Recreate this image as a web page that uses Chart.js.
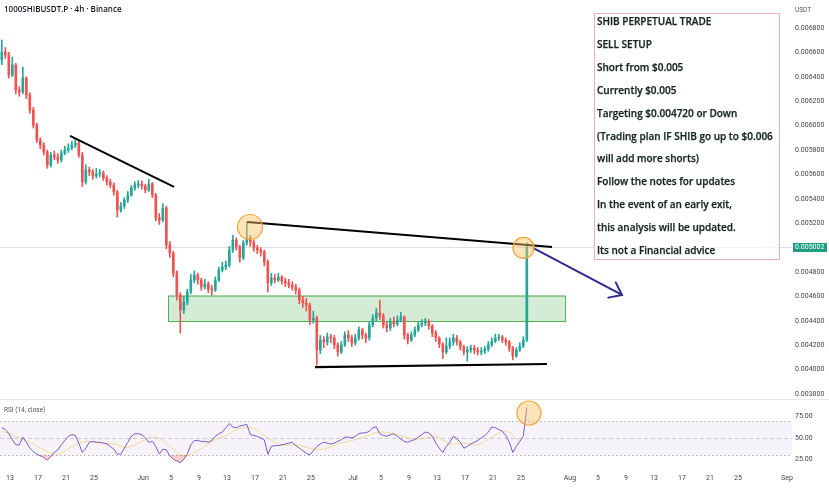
<!DOCTYPE html>
<html>
<head>
<meta charset="utf-8">
<title>1000SHIBUSDT.P 4h</title>
<script src="https://cdn.jsdelivr.net/npm/chart.js@4.4.1/dist/chart.umd.min.js"></script>
<style>
    html, body { margin: 0; padding: 0; background: #fff; }
    #wrap { position: relative; width: 829px; height: 489px; overflow: hidden; font-family: "Open Sans", sans-serif; }
    #price-chart { position: absolute; left: 0; top: 0; }
    #rsi-chart { position: absolute; left: 0; top: 399px; }
    .title { position: absolute; left: 4px; top: 4px; font-size: 8px; font-weight: 600; line-height: 10px; color: #131722; white-space: nowrap; }
    .unit { position: absolute; left: 795px; top: 5px; font-family: Roboto, sans-serif; font-size: 6.5px; line-height: 10px; color: #50535e; }
    .rsi-title { position: absolute; left: 4px; top: 405px; font-family: Roboto, sans-serif; font-size: 6.5px; line-height: 10px; color: #50535e; }
    .note { position: absolute; left: 594px; top: 13px; width: 186px; height: 247px; box-sizing: border-box; border: 1px solid #e3b4b9; background: rgba(255,255,255,0.6); }
    .note .lines { position: absolute; left: 2px; top: -3.6px; font-size: 10px; font-weight: 600; line-height: 22.83px; color: #16241e; white-space: nowrap; -webkit-text-stroke: 0.25px #16241e; }
</style>
</head>
<body>
<div id="wrap">
    <canvas id="price-chart" width="829" height="399"></canvas>
    <canvas id="rsi-chart" width="829" height="90"></canvas>
    <div class="title">1000SHIBUSDT.P · 4h · Binance</div>
    <div class="unit">USDT</div>
    <div class="rsi-title">RSI (14, close)</div>
    <div class="note"><div class="lines">
        <div>SHIB PERPETUAL TRADE</div>
        <div>SELL SETUP</div>
        <div>Short from $0.005</div>
        <div>Currently $0.005</div>
        <div>Targeting $0.004720 or Down</div>
        <div>(Trading plan IF SHIB go up to $0.006</div>
        <div>will add more shorts)</div>
        <div>Follow the notes for updates</div>
        <div>In the event of an early exit,</div>
        <div>this analysis will be updated.</div>
        <div>Its not a Financial advice</div>
    </div></div>
</div>
<script>

var firstCandleDay = 10.83;
var candleStep = 0.5;
var firstOpen = 0.006538;

var closes = [0.006603, 0.006579, 0.006415, 0.006497, 0.006292, 0.006275, 0.006390, 0.006251, 0.006128, 0.006005,
    0.005882, 0.005841, 0.005784, 0.005677, 0.005759, 0.005743, 0.005718, 0.005775, 0.005800, 0.005816,
    0.005841, 0.005857, 0.005759, 0.005538, 0.005636, 0.005620, 0.005587, 0.005603, 0.005611, 0.005570,
    0.005538, 0.005513, 0.005456, 0.005308, 0.005341, 0.005390, 0.005431, 0.005488, 0.005513, 0.005521,
    0.005505, 0.005472, 0.005521, 0.005431, 0.005243, 0.005226, 0.005325, 0.005021, 0.004956, 0.004792,
    0.004611, 0.004488, 0.004554, 0.004636, 0.004734, 0.004775, 0.004734, 0.004677, 0.004702, 0.004661,
    0.004652, 0.004734, 0.004816, 0.004841, 0.004857, 0.004980, 0.005062, 0.005005, 0.004915, 0.005038,
    0.005079, 0.005046, 0.004997, 0.004980, 0.004964, 0.004882, 0.004710, 0.004751, 0.004734, 0.004759,
    0.004726, 0.004710, 0.004693, 0.004677, 0.004652, 0.004570, 0.004546, 0.004529, 0.004406, 0.004423,
    0.004161, 0.004243, 0.004226, 0.004267, 0.004259, 0.004202, 0.004144, 0.004202, 0.004284, 0.004259,
    0.004218, 0.004259, 0.004325, 0.004284, 0.004259, 0.004366, 0.004423, 0.004464, 0.004439, 0.004366,
    0.004341, 0.004390, 0.004374, 0.004406, 0.004431, 0.004284, 0.004243, 0.004284, 0.004325, 0.004366,
    0.004382, 0.004390, 0.004357, 0.004300, 0.004259, 0.004210, 0.004144, 0.004193, 0.004226, 0.004259,
    0.004226, 0.004185, 0.004144, 0.004161, 0.004177, 0.004161, 0.004144, 0.004152, 0.004169, 0.004202,
    0.004234, 0.004259, 0.004267, 0.004243, 0.004226, 0.004177, 0.004111, 0.004161, 0.004193, 0.004243,
    0.005002];

var highs = [0.006702, 0.006640, 0.006600, 0.006562, 0.006510, 0.006320, 0.006480, 0.006400, 0.006270, 0.006150,
    0.006020, 0.005900, 0.005860, 0.005800, 0.005780, 0.005790, 0.005770, 0.005800, 0.005830, 0.005850,
    0.005870, 0.005895, 0.005880, 0.005780, 0.005680, 0.005660, 0.005640, 0.005650, 0.005640, 0.005630,
    0.005590, 0.005560, 0.005530, 0.005470, 0.005370, 0.005410, 0.005460, 0.005510, 0.005540, 0.005550,
    0.005545, 0.005520, 0.005560, 0.005535, 0.005445, 0.005280, 0.005360, 0.005340, 0.005050, 0.004970,
    0.004810, 0.004630, 0.004600, 0.004660, 0.004780, 0.004810, 0.004790, 0.004750, 0.004740, 0.004720,
    0.004690, 0.004760, 0.004840, 0.004880, 0.004890, 0.005010, 0.005100, 0.005080, 0.005020, 0.005060,
    0.005210, 0.005100, 0.005060, 0.005020, 0.005000, 0.004980, 0.004900, 0.004790, 0.004780, 0.004790,
    0.004770, 0.004750, 0.004740, 0.004720, 0.004700, 0.004670, 0.004600, 0.004580, 0.004545, 0.004480,
    0.004440, 0.004280, 0.004270, 0.004300, 0.004290, 0.004280, 0.004220, 0.004230, 0.004310, 0.004320,
    0.004280, 0.004290, 0.004350, 0.004340, 0.004300, 0.004390, 0.004450, 0.004500, 0.004570, 0.004460,
    0.004390, 0.004420, 0.004430, 0.004440, 0.004470, 0.004440, 0.004300, 0.004310, 0.004350, 0.004390,
    0.004410, 0.004420, 0.004410, 0.004370, 0.004320, 0.004270, 0.004220, 0.004260, 0.004260, 0.004290,
    0.004280, 0.004240, 0.004200, 0.004190, 0.004200, 0.004200, 0.004180, 0.004180, 0.004190, 0.004230,
    0.004260, 0.004290, 0.004290, 0.004280, 0.004260, 0.004240, 0.004190, 0.004180, 0.004220, 0.004270,
    0.005040];

var lows = [0.006500, 0.006550, 0.006390, 0.006400, 0.006260, 0.006240, 0.006260, 0.006220, 0.006100, 0.005980,
    0.005860, 0.005810, 0.005760, 0.005650, 0.005660, 0.005720, 0.005690, 0.005700, 0.005760, 0.005780,
    0.005800, 0.005820, 0.005740, 0.005500, 0.005520, 0.005590, 0.005560, 0.005570, 0.005580, 0.005550,
    0.005510, 0.005490, 0.005430, 0.005250, 0.005290, 0.005320, 0.005370, 0.005420, 0.005470, 0.005490,
    0.005480, 0.005450, 0.005460, 0.005410, 0.005220, 0.005190, 0.005210, 0.004990, 0.004920, 0.004760,
    0.004570, 0.004300, 0.004460, 0.004530, 0.004620, 0.004710, 0.004700, 0.004650, 0.004660, 0.004630,
    0.004610, 0.004640, 0.004720, 0.004800, 0.004820, 0.004840, 0.004960, 0.004980, 0.004880, 0.004900,
    0.005020, 0.005010, 0.004970, 0.004950, 0.004930, 0.004850, 0.004636, 0.004690, 0.004710, 0.004720,
    0.004700, 0.004680, 0.004670, 0.004650, 0.004620, 0.004540, 0.004510, 0.004480, 0.004370, 0.004380,
    0.004038, 0.004130, 0.004180, 0.004200, 0.004220, 0.004170, 0.004110, 0.004130, 0.004190, 0.004230,
    0.004190, 0.004200, 0.004240, 0.004250, 0.004220, 0.004240, 0.004350, 0.004400, 0.004410, 0.004340,
    0.004310, 0.004320, 0.004350, 0.004360, 0.004390, 0.004250, 0.004210, 0.004230, 0.004270, 0.004310,
    0.004350, 0.004360, 0.004330, 0.004270, 0.004230, 0.004180, 0.004090, 0.004130, 0.004170, 0.004200,
    0.004200, 0.004160, 0.004120, 0.004070, 0.004140, 0.004130, 0.004120, 0.004120, 0.004130, 0.004150,
    0.004190, 0.004220, 0.004240, 0.004220, 0.004200, 0.004150, 0.004080, 0.004100, 0.004150, 0.004180,
    0.004230];

// RSI (14, close), one reading per candle
var rsiValues = [62, 60, 55, 48, 42, 42, 51, 45, 38, 34,
    31, 29, 27, 24, 28, 33, 36, 42, 47, 52,
    54, 53, 44, 33, 38, 45, 46, 45, 45, 44,
    43, 40, 37, 31, 31, 38, 45, 52, 55, 55,
    54, 50, 45, 46, 40, 31, 37, 36, 29, 25,
    23, 21, 25, 31, 42, 47, 47, 46, 46, 45,
    47, 52, 55, 57, 62, 67, 63, 62, 64, 65,
    66, 54, 53, 52, 50, 48, 31, 40, 41, 41,
    42, 43, 44, 45, 41, 38, 35, 32, 30, 35,
    40, 43, 45, 44, 43, 44, 46, 48, 51, 51,
    50, 52, 55, 56, 56, 58, 62, 63, 55, 53,
    52, 54, 55, 52, 49, 46, 45, 47, 48, 51,
    54, 57, 56, 52, 44, 38, 33, 40, 45, 52,
    49, 45, 38, 40, 43, 45, 47, 50, 53, 57,
    63, 62, 60, 58, 53, 45, 33, 40, 46, 52,
    86];

// RSI moving average, one reading every 4th candle
var rsiMaStep = 4;
var rsiMaValues = [58, 52, 45, 36, 31, 40, 46, 44, 43, 39,
    46, 51, 40, 29, 35, 46, 53, 61, 61, 50,
    42, 42, 38, 37, 43, 47, 52, 57, 55, 50,
    49, 52, 43, 44, 42, 51, 58, 46];

var lastPrice = 0.005002;
var priceTicks = [0.0068, 0.0066, 0.0064, 0.0062, 0.0060, 0.0058, 0.0056, 0.0054, 0.0052,
    0.0048, 0.0046, 0.0044, 0.0042, 0.0040, 0.0038];
var rsiTicks = [75, 50, 25];
var dateTickDays = [12, 16, 20, 24, 31, 35, 39, 43, 47, 51, 55, 61, 65, 69, 73, 77, 81, 85,
    92, 96, 100, 104, 108, 112, 116, 123];
var dateTickLabels = ['13', '17', '21', '25', 'Jun', '5', '9', '13', '17', '21', '25', 'Jul', '5', '9', '13', '17', '21', '25',
    'Aug', '5', '9', '13', '17', '21', '25', 'Sep'];

// drawings on the chart (day, price)
var trendLines = [
    [{x: 20.57, y: 0.005915}, {x: 35.43, y: 0.005497}],
    [{x: 45.86, y: 0.005210}, {x: 89.43, y: 0.005005}],
    [{x: 55.57, y: 0.004021}, {x: 88.71, y: 0.004046}]
];
var arrowLine = [{x: 86.71, y: 0.004997}, {x: 99.43, y: 0.004612}];
var zone = {x0: 34.57, x1: 91.29, top: 0.004607, bottom: 0.004398};
var priceCircles = [{x: 46.29, y: 0.005169}, {x: 85.36, y: 0.004997}];
var rsiCircles = [{x: 86.14, y: 79.4}];

// visible window
var viewMinDay = 10.571;
var viewMaxDay = 123.714;
var priceMin = 0.003759;
var priceMax = 0.0070295;
var rsiMin = 12.35;
var rsiMax = 95.88;

var upColor = '#26a69a';
var downColor = '#ef5350';
var axisText = '#3f4350';
var tickFont = {family: 'Roboto', size: 7};

// build candle pieces
var opens = closes.map(function (c, i) { return i === 0 ? firstOpen : closes[i - 1]; });
var candleDays = closes.map(function (c, i) { return firstCandleDay + i * candleStep; });
var candleColors = closes.map(function (c, i) { return c >= opens[i] ? upColor : downColor; });
var wickData = candleDays.map(function (d, i) { return {x: d, y: [lows[i], highs[i]]}; });
var bodyData = candleDays.map(function (d, i) { return {x: d, y: [opens[i], closes[i]]}; });

function fixedAxis(width) {
    return function (scale) {
        scale.width = width;
        scale.paddingTop = 0;
        scale.paddingBottom = 0;
    };
}

// green zone + current price line behind candles
var zonePlugin = {
    id: 'zone',
    beforeDatasetsDraw: function (chart) {
        var ctx = chart.ctx, xs = chart.scales.x, ys = chart.scales.y, area = chart.chartArea;
        var x0 = xs.getPixelForValue(zone.x0), x1 = xs.getPixelForValue(zone.x1);
        var y0 = ys.getPixelForValue(zone.top), y1 = ys.getPixelForValue(zone.bottom);
        ctx.save();
        ctx.fillStyle = 'rgba(102, 187, 106, 0.28)';
        ctx.fillRect(x0, y0, x1 - x0, y1 - y0);
        ctx.strokeStyle = '#4caf50';
        ctx.lineWidth = 1;
        ctx.strokeRect(x0 + 0.5, y0 + 0.5, x1 - x0, y1 - y0);
        var py = Math.round(ys.getPixelForValue(lastPrice)) + 0.5;
        ctx.strokeStyle = '#dde1e6';
        ctx.beginPath();
        ctx.moveTo(area.left, py);
        ctx.lineTo(area.right, py);
        ctx.stroke();
        ctx.restore();
    }
};

// arrow head on the projection line + last price tag on the axis
var overlayPlugin = {
    id: 'overlay',
    afterDatasetsDraw: function (chart) {
        var ctx = chart.ctx;
        var idx = chart.data.datasets.findIndex(function (ds) { return ds.label === 'arrow'; });
        var pts = chart.getDatasetMeta(idx).data;
        var a = pts[0], b = pts[1];
        var ang = Math.atan2(b.y - a.y, b.x - a.x);
        var len = 14;
        ctx.save();
        ctx.strokeStyle = '#2c2a8c';
        ctx.lineWidth = 2;
        ctx.lineCap = 'round';
        ctx.beginPath();
        ctx.moveTo(b.x - len * Math.cos(ang - 0.68), b.y - len * Math.sin(ang - 0.68));
        ctx.lineTo(b.x, b.y);
        ctx.lineTo(b.x - len * Math.cos(ang + 0.62), b.y - len * Math.sin(ang + 0.62));
        ctx.stroke();
        ctx.restore();
    },
    afterDraw: function (chart) {
        var ctx = chart.ctx, area = chart.chartArea;
        var y = chart.scales.y.getPixelForValue(lastPrice);
        ctx.save();
        ctx.fillStyle = '#1e9e80';
        ctx.fillRect(area.right + 1, Math.round(y) - 4, 34, 9);
        ctx.fillStyle = '#ffffff';
        ctx.font = '7px Roboto';
        ctx.textBaseline = 'middle';
        ctx.fillText(lastPrice.toFixed(6), area.right + 3, Math.round(y) + 0.5);
        ctx.restore();
    }
};

var priceChart = new Chart(document.getElementById('price-chart'), {
    type: 'bar',
    data: {
        datasets: [
            {
                label: 'wicks',
                data: wickData,
                backgroundColor: candleColors,
                barThickness: 1,
                grouped: false,
                order: 4
            },
            {
                label: 'bodies',
                data: bodyData,
                backgroundColor: candleColors,
                barThickness: 2,
                minBarLength: 1,
                grouped: false,
                order: 3
            },
            {type: 'line', label: 'line1', data: trendLines[0], borderColor: '#000', borderWidth: 2, pointRadius: 0, order: 1},
            {type: 'line', label: 'line2', data: trendLines[1], borderColor: '#000', borderWidth: 2, pointRadius: 0, order: 1},
            {type: 'line', label: 'line3', data: trendLines[2], borderColor: '#000', borderWidth: 2.2, pointRadius: 0, order: 1},
            {type: 'line', label: 'arrow', data: arrowLine, borderColor: '#2c2a8c', borderWidth: 2, pointRadius: 0, order: 1},
            {
                type: 'scatter',
                label: 'circles',
                data: priceCircles,
                pointRadius: [12.5, 10.5],
                pointBackgroundColor: 'rgba(255, 196, 100, 0.45)',
                pointBorderColor: '#f0a63c',
                pointBorderWidth: 1.2,
                order: 0
            }
        ]
    },
    options: {
        responsive: false,
        animation: false,
        events: [],
        layout: {padding: 0, autoPadding: false},
        plugins: {
            legend: {display: false},
            tooltip: {enabled: false}
        },
        scales: {
            x: {
                type: 'linear',
                min: viewMinDay,
                max: viewMaxDay,
                offset: false,
                display: false
            },
            y: {
                type: 'linear',
                position: 'right',
                min: priceMin,
                max: priceMax,
                grid: {display: false, drawTicks: false},
                border: {display: false},
                ticks: {
                    font: tickFont,
                    color: axisText,
                    padding: 3,
                    callback: function (v) { return v.toFixed(6); }
                },
                afterBuildTicks: function (scale) {
                    scale.ticks = priceTicks.map(function (v) { return {value: v}; });
                },
                afterFit: fixedAxis(37)
            }
        }
    },
    plugins: [zonePlugin, overlayPlugin]
});

// RSI pane: 30-70 band and dotted levels
var bandPlugin = {
    id: 'band',
    beforeDatasetsDraw: function (chart) {
        var ctx = chart.ctx, ys = chart.scales.y, area = chart.chartArea;
        var y70 = ys.getPixelForValue(70), y30 = ys.getPixelForValue(30), y50 = ys.getPixelForValue(50);
        ctx.save();
        ctx.fillStyle = 'rgba(126, 87, 194, 0.07)';
        ctx.fillRect(area.left, y70, area.right - area.left, y30 - y70);
        ctx.lineWidth = 1;
        ctx.strokeStyle = '#a9abb5';
        ctx.setLineDash([1.5, 2.5]);
        [y70, y30].forEach(function (y) {
            ctx.beginPath();
            ctx.moveTo(area.left, Math.round(y) + 0.5);
            ctx.lineTo(area.right, Math.round(y) + 0.5);
            ctx.stroke();
        });
        ctx.strokeStyle = 'rgba(150, 140, 190, 0.45)';
        ctx.setLineDash([4, 3]);
        ctx.beginPath();
        ctx.moveTo(area.left, Math.round(y50) + 0.5);
        ctx.lineTo(area.right, Math.round(y50) + 0.5);
        ctx.stroke();
        ctx.setLineDash([]);
        ctx.strokeStyle = '#e6e8ee';
        ctx.beginPath();
        ctx.moveTo(0, 0.5);
        ctx.lineTo(chart.width, 0.5);
        ctx.stroke();
        ctx.restore();
    }
};

var rsiData = candleDays.map(function (d, i) { return {x: d, y: rsiValues[i]}; });
var rsiMaData = rsiMaValues.map(function (v, j) { return {x: candleDays[j * rsiMaStep], y: v}; });

var rsiChart = new Chart(document.getElementById('rsi-chart'), {
    type: 'line',
    data: {
        datasets: [
            {
                label: 'RSI',
                data: rsiData,
                borderColor: '#7e57c2',
                borderWidth: 1,
                pointRadius: 0,
                fill: {target: {value: 30}, above: 'rgba(0,0,0,0)', below: 'rgba(242, 54, 69, 0.25)'},
                order: 1
            },
            {
                label: 'RSI overbought',
                data: rsiData,
                borderColor: 'rgba(0,0,0,0)',
                borderWidth: 0,
                pointRadius: 0,
                fill: {target: {value: 70}, above: 'rgba(8, 153, 129, 0.25)', below: 'rgba(0,0,0,0)'},
                order: 3
            },
            {
                label: 'RSI MA',
                data: rsiMaData,
                borderColor: 'rgba(240, 196, 70, 0.55)',
                borderWidth: 1,
                pointRadius: 0,
                tension: 0.4,
                order: 2
            },
            {
                type: 'scatter',
                label: 'circle',
                data: rsiCircles,
                pointRadius: 12,
                pointBackgroundColor: 'rgba(255, 196, 100, 0.45)',
                pointBorderColor: '#f0a63c',
                pointBorderWidth: 1.2,
                order: 0
            }
        ]
    },
    options: {
        responsive: false,
        animation: false,
        events: [],
        layout: {padding: 0, autoPadding: false},
        plugins: {
            legend: {display: false},
            tooltip: {enabled: false}
        },
        scales: {
            x: {
                type: 'linear',
                min: viewMinDay,
                max: viewMaxDay,
                offset: false,
                grid: {display: false, drawTicks: false},
                border: {display: false},
                ticks: {
                    font: tickFont,
                    color: axisText,
                    padding: 4,
                    maxRotation: 0,
                    autoSkip: false,
                    callback: function (v, i) { return dateTickLabels[i]; }
                },
                afterBuildTicks: function (scale) {
                    scale.ticks = dateTickDays.map(function (d) { return {value: d}; });
                },
                afterFit: function (scale) {
                    scale.height = 19;
                    scale.paddingLeft = 0;
                    scale.paddingRight = 0;
                }
            },
            y: {
                type: 'linear',
                position: 'right',
                min: rsiMin,
                max: rsiMax,
                grid: {display: false, drawTicks: false},
                border: {display: false},
                ticks: {
                    font: tickFont,
                    color: axisText,
                    padding: 3,
                    callback: function (v) { return v.toFixed(2); }
                },
                afterBuildTicks: function (scale) {
                    scale.ticks = rsiTicks.map(function (v) { return {value: v}; });
                },
                afterFit: fixedAxis(37)
            }
        }
    },
    plugins: [bandPlugin]
});

</script>
</body>
</html>
